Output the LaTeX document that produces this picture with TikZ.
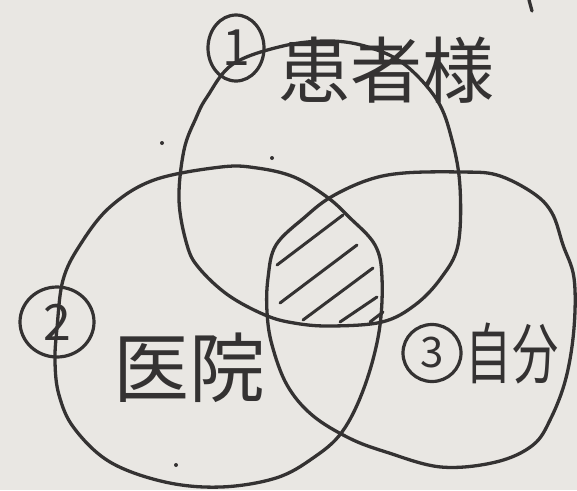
\documentclass[tikz,border=0pt]{standalone}
\usepackage{fontspec}
\newfontfamily\jp{Noto Sans CJK JP}
\usetikzlibrary{shapes.geometric}
\definecolor{paper}{RGB}{233,231,227}
\definecolor{ink}{RGB}{52,50,50}
\tikzset{
  pen/.style={draw=ink, line width=3.3pt, line cap=round, line join=round},
  hatchline/.style={draw=ink, line width=3pt, line cap=round},
  numring/.style={ellipse, draw=ink, line width=3.2pt, inner sep=0pt, text=ink, font=\jp\fontsize{50}{50}\selectfont},
  jplabel/.style={text=ink, inner sep=0pt}
}
\begin{document}
\begin{tikzpicture}[x=1pt,y=-1pt]
\useasboundingbox (0,0) rectangle (577,490);
\fill[paper] (0,0) rectangle (577,490);

% top circle: patients
\draw[pen] plot[smooth cycle, tension=0.6] coordinates {(283,46) (330,41) (368,47) (404,64) (437,100) (452,140) (460,187) (458,245) (441,278) (415,305) (382,322) (330,326) (294,323) (265,315) (228,295) (199,268) (187,245) (179,200) (184,150) (196,118) (207,97) (233,64)};
% left circle: clinic
\draw[pen] plot[smooth cycle, tension=0.6] coordinates {(221,167) (257,168) (294,177) (327,197) (349,217) (375,245) (382,278) (379,332) (364,388) (342,432) (313,458) (276,478) (221,487) (165,482) (110,462) (74,428) (59,395) (55,362) (57,328) (63,280) (80,245) (110,207) (154,180)};
% right circle: self
\draw[pen] plot[smooth cycle, tension=0.6] coordinates {(404,173) (460,172) (497,175) (533,193) (552,213) (563,245) (574,278) (574,328) (566,378) (551,418) (533,445) (496,462) (441,467) (386,452) (349,438) (312,415) (287,385) (272,345) (267,312) (268,278) (276,245) (305,217) (331,197) (368,180)};

% hatching of the common region
\draw[hatchline] (277,265) -- (343,215);
\draw[hatchline] (280,303) -- (357,245);
\draw[hatchline] (303,320) -- (373,268);
\draw[hatchline] (340,322) -- (377,297);
\draw[hatchline] (370,322) -- (383,312);

% labels
\node[numring, minimum width=56pt, minimum height=66pt] (n1) at (236,48) {1};
\node[jplabel, font=\jp\fontsize{72}{72}\selectfont] (t1) at (386,70) {患者様};

\node[numring, minimum width=74pt, minimum height=70pt] (n2) at (57,322) {2};
\node[jplabel, font=\jp\fontsize{76}{76}\selectfont] (t2) at (189,368) {医院};

\node[numring, minimum width=58pt, minimum height=57pt, font=\jp\fontsize{42}{42}\selectfont] (n3) at (432,353) {3};
\node[jplabel, font=\jp\fontsize{66}{66}\selectfont] (t3) at (512,354) {\scalebox{0.7}[1]{自分}};

% stray marks
\fill[ink] (162,143) circle (2);
\fill[ink] (272,158) circle (2);
\fill[ink] (176,465) circle (2);
\draw[pen] (529,0) -- (532,11);
\end{tikzpicture}
\end{document}
